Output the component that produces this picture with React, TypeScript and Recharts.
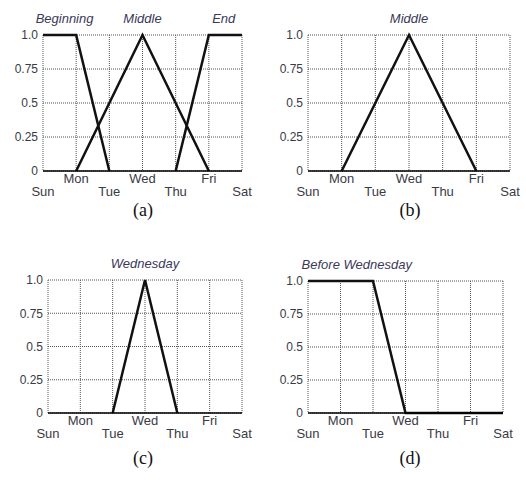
import React from 'react';
import { LineChart, Line, XAxis, YAxis, CartesianGrid, ReferenceDot } from 'recharts';

const days = ['Sun', 'Mon', 'Tue', 'Wed', 'Thu', 'Fri', 'Sat'];
const dayTicks = [0, 1, 2, 3, 4, 5, 6];
const valueTicks = [0, 0.25, 0.5, 0.75, 1];

// membership functions: day index -> degree
const beginningDays = [0, 1, 2];
const beginningValues = [1, 1, 0];
const middleDays = [1, 3, 5];
const middleValues = [0, 1, 0];
const endDays = [4, 5, 6];
const endValues = [0, 1, 1];
const wednesdayDays = [2, 3, 4];
const wednesdayValues = [0, 1, 0];
const beforeWedDays = [0, 2, 3, 6];
const beforeWedValues = [1, 1, 0, 0];

const toPoints = (xs: number[], ys: number[]) => xs.map((d, i) => ({ day: d, value: ys[i] }));

const titleColor = '#3a3a58';
const tickColor = '#3a3a44';
const sans = 'Arial, "Liberation Sans", sans-serif';

const DayTick = (props: any) => {
  const { x, y, payload, index } = props;
  const upper = index % 2 === 1;
  return (
    <text x={x} y={y} dy={upper ? 12 : 25} textAnchor="middle" fill={tickColor} fontSize={13} fontFamily={sans}>
      {days[payload.value]}
    </text>
  );
};

type Series = { xs: number[]; ys: number[]; key: string };
type Title = { text: string; at: number };

function Panel(props: {
  left: number; top: number; axisWidth: number; marginTop: number; marginRight: number;
  plotBottom: number; series: Series[]; titles: Title[];
}) {
  const { left, top, axisWidth, marginTop, marginRight, plotBottom, series, titles } = props;
  const height = plotBottom - top + 40;
  return (
    <div style={{ position: 'absolute', left, top }}>
      <LineChart width={263} height={height} margin={{ top: marginTop, right: marginRight, left: 0, bottom: 0 }}
        style={{ overflow: 'visible' }}>
        <CartesianGrid stroke="#555" strokeDasharray="1 1" />
        <XAxis type="number" dataKey="day" domain={[0, 6]} ticks={dayTicks} interval={0} height={40}
          tickLine={false} tickSize={0} tickMargin={0} tick={<DayTick />}
          axisLine={{ stroke: '#000', strokeWidth: 1.5 }} allowDuplicatedCategory={false} />
        <YAxis type="number" domain={[0, 1]} ticks={valueTicks} width={axisWidth} axisLine={false}
          tickLine={false} tickSize={3} tickMargin={2}
          tick={{ fill: tickColor, fontSize: 12, fontFamily: sans }}
          tickFormatter={(v: number) => (v === 1 ? '1.0' : String(v))} />
        {series.map((s) => (
          <Line key={s.key} data={toPoints(s.xs, s.ys)} dataKey="value" type="linear" stroke="#111"
            strokeWidth={2.5} dot={false} activeDot={false} isAnimationActive={false} />
        ))}
        {titles.map((t) => (
          <ReferenceDot key={t.text} x={t.at} y={1} r={0} stroke="none" fill="none" ifOverflow="visible"
            label={{ value: t.text, position: 'top', offset: 12, fill: titleColor, fontSize: 13,
              fontStyle: 'italic', fontFamily: sans }} />
        ))}
      </LineChart>
    </div>
  );
}

const captionStyle = (x: number, y: number): React.CSSProperties => ({
  position: 'absolute', left: x, top: y, transform: 'translate(-50%, -50%)',
  fontFamily: '"Liberation Serif", "Times New Roman", serif', fontSize: 18, color: '#111',
});

export default function App() {
  return (
    <div style={{ position: 'absolute', left: 0, top: 0, width: 526, height: 482, background: '#fff' }}>
      <Panel left={0} top={0} axisWidth={43} marginTop={35} marginRight={21} plotBottom={171}
        series={[
          { key: 'b', xs: beginningDays, ys: beginningValues },
          { key: 'm', xs: middleDays, ys: middleValues },
          { key: 'e', xs: endDays, ys: endValues },
        ]}
        titles={[{ text: 'Beginning', at: 0.65 }, { text: 'Middle', at: 3 }, { text: 'End', at: 5.45 }]} />
      <Panel left={263} top={0} axisWidth={45} marginTop={35} marginRight={16} plotBottom={171}
        series={[{ key: 'm', xs: middleDays, ys: middleValues }]}
        titles={[{ text: 'Middle', at: 3 }]} />
      <Panel left={0} top={241} axisWidth={48} marginTop={39} marginRight={21} plotBottom={413}
        series={[{ key: 'w', xs: wednesdayDays, ys: wednesdayValues }]}
        titles={[{ text: 'Wednesday', at: 3 }]} />
      <Panel left={263} top={241} axisWidth={45} marginTop={40} marginRight={23} plotBottom={413}
        series={[{ key: 'bw', xs: beforeWedDays, ys: beforeWedValues }]}
        titles={[{ text: 'Before Wednesday', at: 1.5 }]} />
      <div style={captionStyle(143, 210)}>(a)</div>
      <div style={captionStyle(410, 210)}>(b)</div>
      <div style={captionStyle(143, 458)}>(c)</div>
      <div style={captionStyle(410, 458)}>(d)</div>
    </div>
  );
}
